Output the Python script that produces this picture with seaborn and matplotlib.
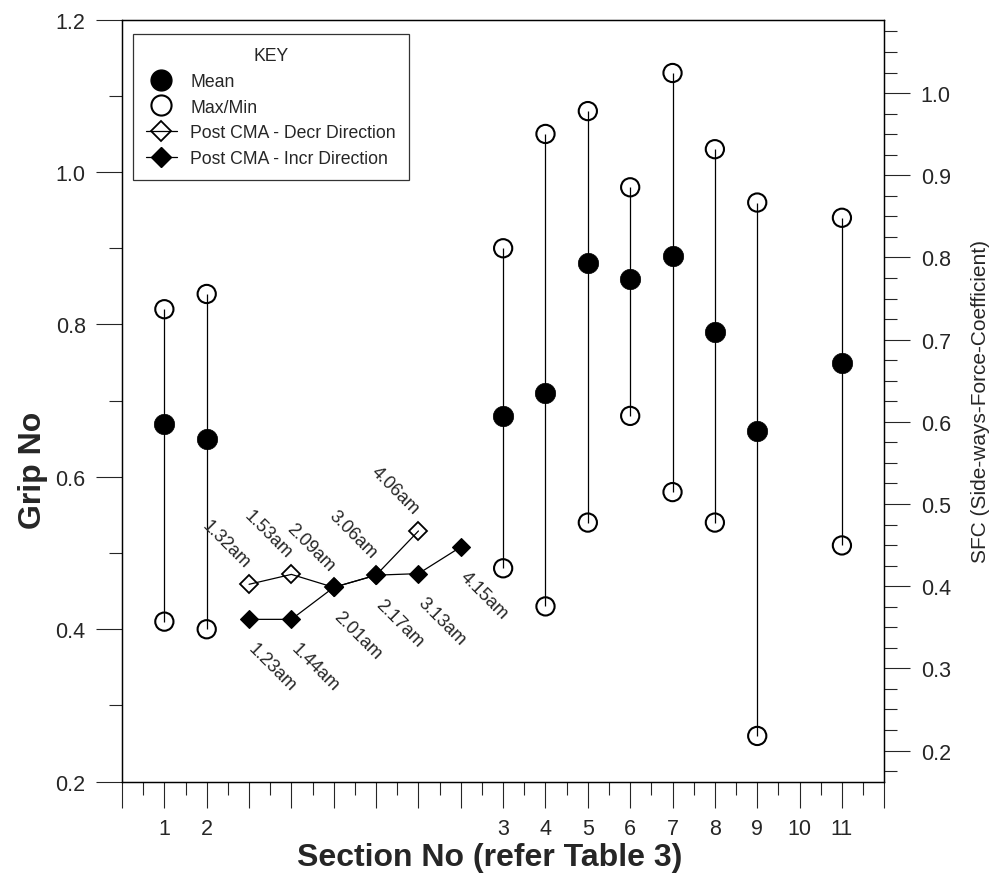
import numpy as np
import pandas as pd
import matplotlib
matplotlib.use("Agg")
import matplotlib.pyplot as plt
from matplotlib.lines import Line2D
from matplotlib.ticker import (FixedLocator, FixedFormatter, MultipleLocator,
                               FormatStrFormatter)
import seaborn as sns

# ---- data -------------------------------------------------------------
# section positions on the numeric x axis and their printed labels
section_x = [1, 2, 9, 10, 11, 12, 13, 14, 15, 17]
section_labels = ["1", "2", "3", "4", "5", "6", "7", "8", "9", "11"]
grip_mean = [0.67, 0.65, 0.68, 0.71, 0.88, 0.86, 0.89, 0.79, 0.66, 0.75]
grip_max = [0.82, 0.84, 0.90, 1.05, 1.08, 0.98, 1.13, 1.03, 0.96, 0.94]
grip_min = [0.41, 0.40, 0.48, 0.43, 0.54, 0.68, 0.58, 0.54, 0.26, 0.51]

# post CMA runs, decreasing direction
decr_x = [3, 4, 5, 6, 7]
decr_grip = [0.459, 0.472, 0.455, 0.471, 0.529]
decr_times = ["1.32am", "1.53am", "2.09am", "3.06am", "4.06am"]

# post CMA runs, increasing direction
incr_x = [3, 4, 5, 6, 7, 8]
incr_grip = [0.413, 0.413, 0.455, 0.471, 0.473, 0.508]
incr_times = ["1.23am", "1.44am", "2.01am", "2.17am", "3.13am", "4.15am"]

# x-axis tick labels (section numbers), one per integer position 0..18
xtick_pos = list(range(0, 19))
xtick_labels = ["", "1", "2", "", "", "", "", "", "", "3", "4", "5", "6",
                "7", "8", "9", "10", "11", ""]

# SFC scale on the right-hand axis corresponding to Grip No 0.2 .. 1.2
sfc_limits = (0.1622, 1.0893)

# ---- style ------------------------------------------------------------
sns.set_style("ticks")
plt.rcParams["font.family"] = ["Liberation Sans", "DejaVu Sans"]

fig = plt.figure(figsize=(9.92, 8.79), dpi=100)
ax = fig.add_axes([0.1230, 0.1096, 0.7684, 0.8669])

sections = pd.DataFrame({"x": section_x, "mean": grip_mean,
                         "max": grip_max, "min": grip_min})
decr = pd.DataFrame({"x": decr_x, "grip": decr_grip})
incr = pd.DataFrame({"x": incr_x, "grip": incr_grip})

# min-max range lines
ax.vlines(sections["x"], sections["min"], sections["max"],
          color="black", lw=0.9, zorder=1)

ext = pd.concat([sections[["x", "max"]].rename(columns={"max": "v"}),
                 sections[["x", "min"]].rename(columns={"min": "v"})])
sns.scatterplot(data=ext, x="x", y="v", ax=ax, marker="o", s=172,
                facecolor="none", edgecolor="black", linewidth=1.5, zorder=3)
sns.scatterplot(data=sections, x="x", y="mean", ax=ax, marker="o", s=215,
                color="black", edgecolor="black", linewidth=0.5, zorder=4)

# post CMA series
sns.lineplot(data=decr, x="x", y="grip", ax=ax, color="black", lw=0.9,
             marker="D", markersize=9.3, markerfacecolor="none",
             markeredgecolor="black", markeredgewidth=1.3, zorder=5)
sns.lineplot(data=incr, x="x", y="grip", ax=ax, color="black", lw=0.9,
             marker="D", markersize=9.6, markerfacecolor="black",
             markeredgecolor="black", markeredgewidth=0.8, zorder=6)

for x, y, t in zip(decr_x, decr_grip, decr_times):
    ax.annotate(t, (x, y), xytext=(-1.5, 14), textcoords="offset points",
                rotation=-45, rotation_mode="anchor", ha="right",
                va="center", fontsize=13)
for x, y, t in zip(incr_x, incr_grip, incr_times):
    ax.annotate(t, (x, y), xytext=(1.5, -19), textcoords="offset points",
                rotation=-45, rotation_mode="anchor", ha="left",
                va="center", fontsize=13)

# ---- axes -------------------------------------------------------------
ax.set_xlim(0, 18)
ax.set_ylim(0.2, 1.2)
ax.xaxis.set_major_locator(FixedLocator(xtick_pos))
ax.xaxis.set_major_formatter(FixedFormatter(xtick_labels))
ax.xaxis.set_minor_locator(MultipleLocator(0.5))
ax.yaxis.set_major_locator(MultipleLocator(0.2))
ax.yaxis.set_minor_locator(MultipleLocator(0.1))
ax.yaxis.set_major_formatter(FormatStrFormatter("%.1f"))
ax.tick_params(which="major", direction="out", length=18.7, width=0.8,
               labelsize=15.5, pad=7.5)
ax.tick_params(which="minor", direction="out", length=9.3, width=0.8)
for s in ax.spines.values():
    s.set_visible(True)
    s.set_linewidth(0.9)
    s.set_color("black")

ax.set_xlabel("Section No (refer Table 3)", fontsize=23, fontweight="bold",
              va="center")
ax.xaxis.set_label_coords(0.483, -0.0990)
ax.set_ylabel("Grip No", fontsize=23, fontweight="bold", va="center")
ax.yaxis.set_label_coords(-0.117, 0.41)

ax2 = ax.twinx()
ax2.set_ylim(*sfc_limits)
ax2.yaxis.set_major_locator(MultipleLocator(0.1))
ax2.yaxis.set_minor_locator(MultipleLocator(0.025))
ax2.yaxis.set_major_formatter(FormatStrFormatter("%.1f"))
ax2.tick_params(which="major", direction="out", length=18.7, width=0.8,
                labelsize=15.5, pad=7.5)
ax2.tick_params(which="minor", direction="out", length=9.3, width=0.8)
for s in ax2.spines.values():
    s.set_linewidth(0.9)
    s.set_color("black")
ax2.set_ylabel("SFC (Side-ways-Force-Coefficient)", fontsize=15,
               va="center")
ax2.yaxis.set_label_coords(1.1268, 0.5)

# ---- legend -----------------------------------------------------------
handles = [
    Line2D([], [], ls="none", marker="o", markersize=15,
           markerfacecolor="black", markeredgecolor="black"),
    Line2D([], [], ls="none", marker="o", markersize=14.5,
           markerfacecolor="none", markeredgecolor="black",
           markeredgewidth=1.5),
    Line2D([], [], ls="-", lw=0.9, color="black", marker="D", markersize=10,
           markerfacecolor="none", markeredgecolor="black",
           markeredgewidth=1.3),
    Line2D([], [], ls="-", lw=0.9, color="black", marker="D", markersize=10,
           markerfacecolor="black", markeredgecolor="black"),
]
labels = ["Mean", "Max/Min", "Post CMA - Decr Direction",
          "Post CMA - Incr Direction"]
leg = ax.legend(handles, labels, title="KEY", loc="upper left",
                bbox_to_anchor=(0.014, 0.981), fontsize=12.7,
                title_fontsize=12.7, frameon=True, fancybox=False,
                edgecolor="black", handlelength=1.75, handletextpad=0.75,
                labelspacing=0.49, borderpad=0.75, borderaxespad=0)
leg.get_frame().set_linewidth(0.9)

fig.savefig("out.png", dpi=100)
